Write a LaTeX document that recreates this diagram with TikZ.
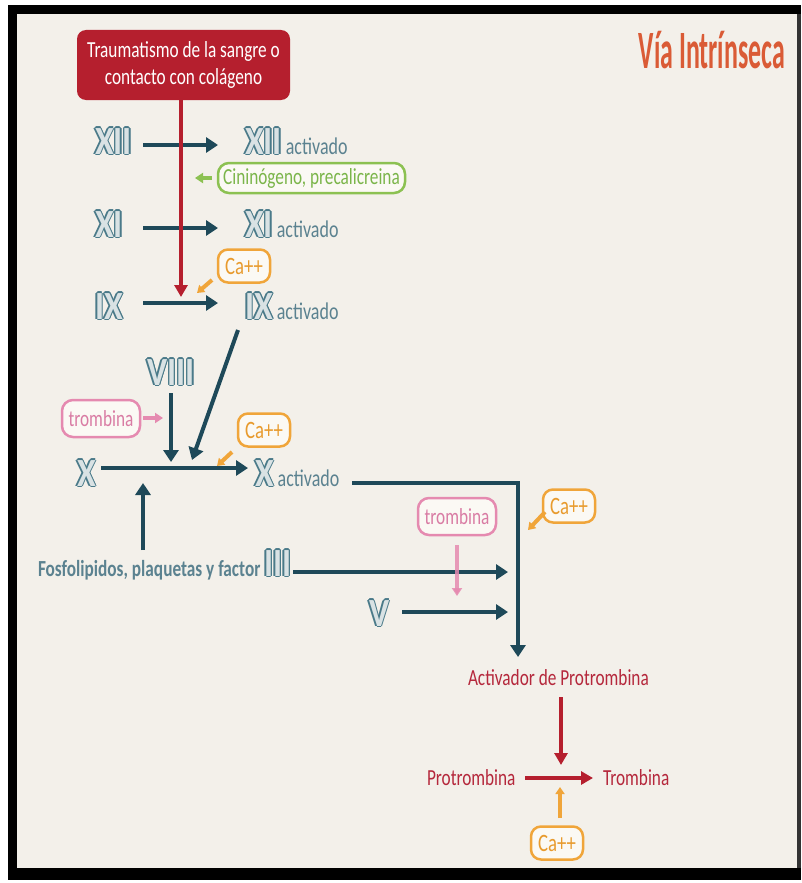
\documentclass[tikz,border=0pt]{standalone}
\usepackage{fontspec}
\setmainfont{Carlito}[FakeStretch=0.75]
\newfontfamily\titlefont{Carlito}[FakeStretch=0.48]
\newfontfamily\numfont{Carlito}[FakeStretch=0.85]
\usepackage{contour}
\contourlength{1.4pt}
\contournumber{8}
\usetikzlibrary{arrows.meta}
\definecolor{bgc}{HTML}{F3F0EA}
\definecolor{tealc}{HTML}{1E4959}
\definecolor{numc}{HTML}{4A7A89}
\definecolor{numin}{HTML}{D9E2E4}
\definecolor{actc}{HTML}{5B8290}
\definecolor{redc}{HTML}{B51F2E}
\definecolor{redtxt}{HTML}{B5283C}
\definecolor{greenc}{HTML}{8CC152}
\definecolor{greentxt}{HTML}{7BB54A}
\definecolor{orangec}{HTML}{F0A53A}
\definecolor{orangetxt}{HTML}{E89B2E}
\definecolor{pinkc}{HTML}{E58AB0}
\definecolor{pinktxt}{HTML}{D97CA4}
\definecolor{titlec}{HTML}{DA5B36}
\definecolor{boxfill}{HTML}{FBF9F4}
\newcommand\rnum[1]{{\numfont\fontsize{40}{40}\selectfont\bfseries\color{numin}\contour{numc}{#1}}}
\newcommand\actv{{\fontsize{24}{24}\selectfont\color{actc}activado}}
\begin{document}
\begin{tikzpicture}[x=1pt,y=-1pt,
  txt/.style={inner sep=0pt, outer sep=0pt},
  darr/.style={draw=tealc, line width=4pt, -{Triangle[length=12pt,width=15pt]}},
  redarr/.style={draw=redc, line width=3.5pt, -{Triangle[length=12pt,width=13pt]}},
  garr/.style={draw=greenc, line width=4pt, -{Triangle[length=8pt,width=10pt]}},
  oarr/.style={draw=orangec, line width=4pt, -{Triangle[length=7pt,width=9pt]}},
  parr/.style={draw=pinkc, line width=4pt, -{Triangle[length=8pt,width=10pt]}},
  redbox/.style={fill=redc, rounded corners=9pt, minimum width=213pt, minimum height=70pt, text=white, align=center, font=\fontsize{23}{27}\selectfont, inner sep=0pt},
  gbox/.style={draw=greenc, line width=2.5pt, fill=boxfill, rounded corners=11pt, minimum width=187pt, minimum height=30pt, text=greentxt, font=\fontsize{23}{23}\selectfont, inner sep=0pt},
  cabox/.style={draw=orangec, line width=2.5pt, fill=boxfill, rounded corners=10pt, minimum width=52pt, minimum height=33pt, text=orangetxt, font=\fontsize{25}{25}\selectfont, inner sep=0pt},
  pbox/.style={draw=pinkc, line width=2.5pt, fill=boxfill, rounded corners=11pt, minimum width=78pt, minimum height=37pt, text=pinktxt, font=\fontsize{23}{23}\selectfont, inner sep=0pt},
  rtxt/.style={txt, text=redtxt, font=\fontsize{23}{23}\selectfont}
]
% frame
\useasboundingbox (0,0) rectangle (801,883);
\fill[white] (0,0) rectangle (801,883);
\fill[black] (8,5) rectangle (801,880);
\fill[bgc] (17,14) rectangle (797,868);
\fill[black!80] (797,14) rectangle (801,868);

% title
\node[txt, anchor=base east, text=titlec, font=\titlefont\bfseries\fontsize{54}{54}\selectfont] (title) at (785,68) {Vía Intrínseca};

% trauma box
\node[redbox] (trauma) at (183.5,65) {Traumatismo de la sangre o\\contacto con colágeno};

% numerals left column
\node[txt, anchor=base west] (n12) at (95,154) {\rnum{XII}};
\node[txt, anchor=base west] (n11) at (95,237) {\rnum{XI}};
\node[txt, anchor=base west] (n9) at (95,319) {\rnum{IX}};
\node[txt, anchor=base] (n8) at (171,385) {\rnum{VIII}};
\node[txt, anchor=base west] (n10) at (77,486) {\rnum{X}};
\node[txt, anchor=base west] (n5) at (369,626) {\rnum{V}};
\node[txt, anchor=base west, text=actc, font=\fontsize{23}{23}\selectfont\bfseries] (fosf) at (38,576) {Fosfolipidos, plaquetas y factor \rnum{III}};

% activated column
\node[txt, anchor=base west] (a12) at (245,154) {\rnum{XII}\hspace{4pt}\actv};
\node[txt, anchor=base west] (a11) at (245,237) {\rnum{XI}\hspace{4pt}\actv};
\node[txt, anchor=base west] (a9) at (245,319) {\rnum{IX}\hspace{4pt}\actv};
\node[txt, anchor=base west] (a10) at (255,486) {\rnum{X}\hspace{4pt}\actv};

% cofactor boxes
\node[gbox] (cinin) at (311.5,178) {Cininógeno, precalicreina};
\node[cabox] (ca1) at (244,266) {Ca++};
\node[cabox] (ca2) at (264,430) {Ca++};
\node[cabox] (ca3) at (569,506) {Ca++};
\node[cabox] (ca4) at (557,843) {Ca++};
\node[pbox] (tromb1) at (101,418.5) {trombina};
\node[pbox] (tromb2) at (457,516.5) {trombina};

% red texts
\node[rtxt, anchor=base west] (activ) at (468,685) {Activador de Protrombina};
\node[rtxt, anchor=base west] (protr) at (427,785) {Protrombina};
\node[rtxt, anchor=base west] (tromb) at (603,785) {Trombina};

% coordinates
\coordinate (s12) at (143,145); \coordinate (e12) at (218,145);
\coordinate (s11) at (143,228); \coordinate (e11) at (218,228);
\coordinate (s9) at (143,303);  \coordinate (e9) at (218,303);
\coordinate (redend) at (181,297);
\coordinate (gend) at (195,178);
\coordinate (o1s) at (212,280); \coordinate (o1e) at (197,293);
\coordinate (dgs) at (238,330); \coordinate (dge) at (192,460);
\coordinate (v8s) at (171,393); \coordinate (v8e) at (171,462);
\coordinate (p1s) at (143,418); \coordinate (p1e) at (163,418);
\coordinate (o2s) at (232,452); \coordinate (o2e) at (217,466);
\coordinate (s10) at (101,468); \coordinate (e10) at (248,468);
\coordinate (ups) at (143,550); \coordinate (upe) at (143,483);
\coordinate (s3) at (293,572); \coordinate (e3) at (508,572);
\coordinate (s5) at (402,612); \coordinate (e5) at (508,612);
\coordinate (xas) at (352,483); \coordinate (xae) at (518,657);
\coordinate (o3s) at (545,512); \coordinate (o3e) at (528,530);
\coordinate (p2s) at (457,545); \coordinate (p2e) at (457,596);
\coordinate (acs) at (561,697); \coordinate (ace) at (561,765);
\coordinate (prs) at (525,778); \coordinate (pre) at (593,778);
\coordinate (o4s) at (560,818); \coordinate (o4e) at (560,787);

% teal arrows
\draw[darr] (s12) -- (e12);
\draw[darr] (s11) -- (e11);
\draw[darr] (s9) -- (e9);
\draw[darr] (dgs) -- (dge);
\draw[darr] (v8s) -- (v8e);
\draw[darr] (s10) -- (e10);
\draw[darr] (ups) -- (upe);
\draw[darr] (s3) -- (e3);
\draw[darr] (s5) -- (e5);
\draw[darr] (xas) -| (xae);

% red arrows
\draw[redarr] (trauma.south -| redend) -- (redend);
\draw[redarr] (acs) -- (ace);
\draw[redarr] (prs) -- (pre);

% cofactor arrows
\draw[garr] (cinin.west) ++(-5,0) -- (gend);
\draw[oarr] (o1s) -- (o1e);
\draw[oarr] (o2s) -- (o2e);
\draw[oarr] (o3s) -- (o3e);
\draw[oarr] (o4s) -- (o4e);
\draw[parr] (p1s) -- (p1e);
\draw[parr, draw opacity=0.85] (p2s) -- (p2e);
\end{tikzpicture}
\end{document}
